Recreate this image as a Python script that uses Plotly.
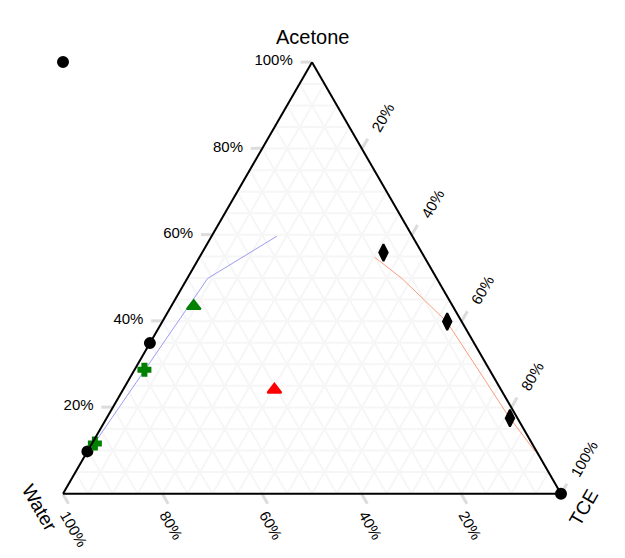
import plotly.graph_objects as go

# ---- data (percent) ----
circ_a = [34.9, 9.8, 0.0]
circ_b = [65.1, 90.2, 0.0]
circ_c = [0.0, 0.0, 100.0]

# stray marker drawn in the figure's top-left corner (paper fraction)
stray_x = [0.0]
stray_y = [1.0]

cross_a = [28.7, 11.6]
cross_b = [69.3, 87.8]
cross_c = [2.0, 0.6]

gtri_a = [43.5]
gtri_b = [52.0]
gtri_c = [4.5]

rtri_a = [24.1]
rtri_b = [45.5]
rtri_c = [30.4]

dia_a = [55.9, 39.9, 17.5]
dia_b = [7.7, 2.9, 1.5]
dia_c = [36.4, 57.2, 81.0]

blue_a = [10.9, 49.9, 59.7]
blue_b = [88.7, 46.0, 27.2]
blue_c = [0.4, 4.1, 13.1]

orange_a = [54.8, 49.9, 44.9, 39.8, 26.4, 18.1, 9.8]
orange_b = [10.0, 7.0, 5.0, 3.0, 2.1, 1.6, 0.3]
orange_c = [35.2, 43.1, 50.1, 57.2, 71.5, 80.3, 89.9]

grid_vals = list(range(5, 100, 5))
tick_vals = [20, 40, 60, 80, 100]
tick_text = ["20%", "40%", "60%", "80%", "100%"]

axis_titles = ["Acetone", "Water", "TCE"]

FONT = "Liberation Sans, Arial, sans-serif"

fig = go.Figure()

# stray point on a hidden cartesian frame covering the plot area
fig.add_trace(go.Scatter(x=stray_x, y=stray_y, mode="markers", cliponaxis=False,
                         marker=dict(symbol="circle", size=10, color="black",
                                     line=dict(color="black", width=2)),
                         showlegend=False, hoverinfo="skip"))

def dummy(sub):
    return go.Scatterternary(a=[0], b=[0], c=[100], mode="markers",
                             marker=dict(size=1, opacity=0), subplot=sub,
                             showlegend=False, hoverinfo="skip")

fig.add_trace(dummy("ternary"))
fig.add_trace(dummy("ternary2"))

fig.add_trace(go.Scatterternary(a=blue_a, b=blue_b, c=blue_c, mode="lines",
                                line=dict(color="#9c9cf2", width=1), subplot="ternary3",
                                showlegend=False))
fig.add_trace(go.Scatterternary(a=orange_a, b=orange_b, c=orange_c, mode="lines",
                                line=dict(color="#f99c7c", width=1), subplot="ternary3",
                                showlegend=False))

mk = dict(cliponaxis=False, subplot="ternary3", showlegend=False, mode="markers")
fig.add_trace(go.Scatterternary(a=circ_a, b=circ_b, c=circ_c,
                                marker=dict(symbol="circle", size=10, color="black",
                                            line=dict(color="black", width=2)), **mk))
fig.add_trace(go.Scatterternary(a=cross_a, b=cross_b, c=cross_c,
                                marker=dict(symbol="cross", size=10, color="green",
                                            line=dict(color="green", width=2)), **mk))
fig.add_trace(go.Scatterternary(a=gtri_a, b=gtri_b, c=gtri_c,
                                marker=dict(symbol="triangle-up", size=12, color="green",
                                            line=dict(color="green", width=2)), **mk))
fig.add_trace(go.Scatterternary(a=rtri_a, b=rtri_b, c=rtri_c,
                                marker=dict(symbol="triangle-up", size=12, color="red",
                                            line=dict(color="red", width=2)), **mk))
fig.add_trace(go.Scatterternary(a=dia_a, b=dia_b, c=dia_c,
                                marker=dict(symbol="diamond-tall", size=12, color="black",
                                            line=dict(color="black", width=2)), **mk))

dom = dict(x=[0, 1], y=[0, 1])
notitle = dict(text="")

def grid_axis():
    return dict(title=notitle, tickmode="array", tickvals=grid_vals,
                showticklabels=False, ticks="",
                showline=False, showgrid=True, gridcolor="#f6f6f6", gridwidth=1.5)

def tickmark_axis():
    return dict(title=notitle, tickmode="array", tickvals=tick_vals,
                showticklabels=False, ticks="outside", ticklen=11, tickwidth=2.5,
                tickcolor="#dcdcdc", showline=False, showgrid=False)

def label_axis(angle, tlen):
    return dict(title=notitle, tickmode="array", tickvals=tick_vals, ticktext=tick_text,
                ticks="outside", ticklen=tlen, tickwidth=1, tickcolor="rgba(0,0,0,0)",
                tickangle=angle, showgrid=False,
                showline=True, linecolor="black", linewidth=2,
                tickfont=dict(size=15, color="black", family=FONT))

fig.update_layout(
    width=617, height=550,
    margin=dict(l=55, r=64, t=54, b=64),
    paper_bgcolor="white",
    plot_bgcolor="rgba(0,0,0,0)",
    font=dict(family=FONT, color="black"),
    xaxis=dict(range=[0, 1], visible=False, fixedrange=True),
    yaxis=dict(range=[0, 1], visible=False, fixedrange=True),
    ternary=dict(sum=100, domain=dom, bgcolor="white",
                 aaxis=grid_axis(), baxis=grid_axis(), caxis=grid_axis()),
    ternary2=dict(sum=100, domain=dom, bgcolor="rgba(0,0,0,0)",
                  aaxis=tickmark_axis(), baxis=tickmark_axis(), caxis=tickmark_axis()),
    ternary3=dict(sum=100, domain=dom, bgcolor="rgba(0,0,0,0)",
                  aaxis=label_axis(0, 16), baxis=label_axis(60, 6),
                  caxis=label_axis(-60, 17)),
    annotations=[
        dict(text=axis_titles[0], x=0.5, y=1.058, xref="paper", yref="paper",
             xanchor="center", yanchor="middle", showarrow=False,
             font=dict(size=20, color="black", family=FONT)),
        dict(text=axis_titles[1], x=-0.048, y=-0.032, xref="paper", yref="paper",
             xanchor="center", yanchor="middle", showarrow=False, textangle=60,
             font=dict(size=19, color="black", family=FONT)),
        dict(text=axis_titles[2], x=1.046, y=-0.032, xref="paper", yref="paper",
             xanchor="center", yanchor="middle", showarrow=False, textangle=-60,
             font=dict(size=19, color="black", family=FONT)),
    ],
)

fig.write_html("out.html")
